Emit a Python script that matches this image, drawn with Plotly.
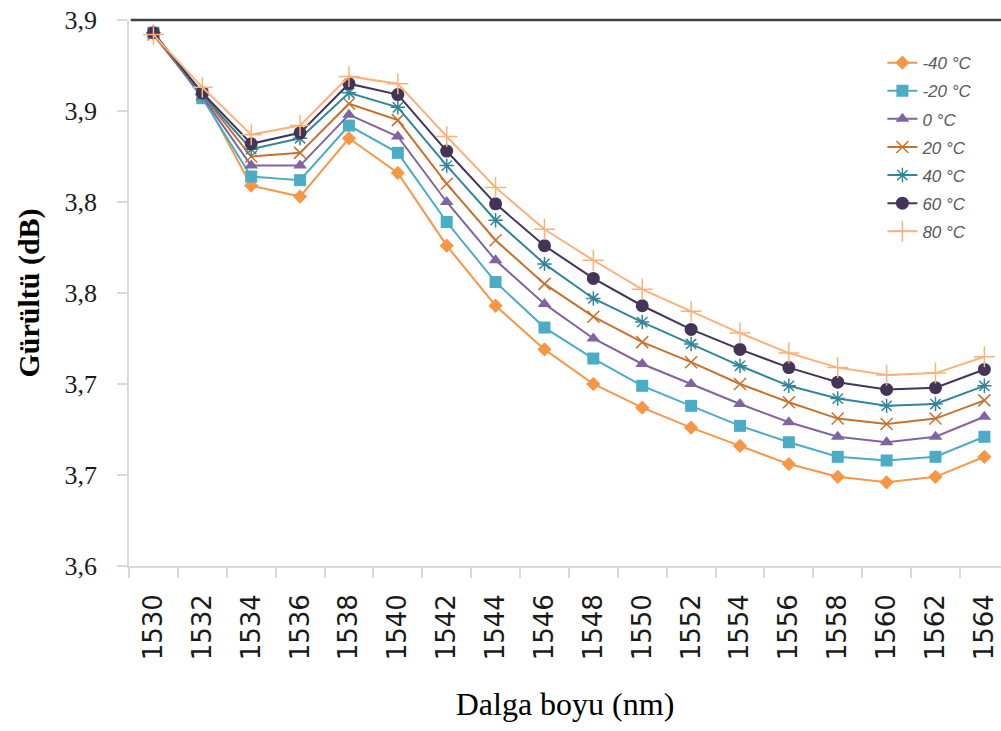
import plotly.graph_objects as go

wavelengths = ["1530", "1532", "1534", "1536", "1538", "1540", "1542", "1544", "1546",
               "1548", "1550", "1552", "1554", "1556", "1558", "1560", "1562", "1564"]

t_m40 = [3.893, 3.859, 3.809, 3.803, 3.835, 3.816, 3.776, 3.743, 3.719,
         3.700, 3.687, 3.676, 3.666, 3.656, 3.649, 3.646, 3.649, 3.660]
t_m20 = [3.893, 3.857, 3.814, 3.812, 3.842, 3.827, 3.789, 3.756, 3.731,
         3.714, 3.699, 3.688, 3.677, 3.668, 3.660, 3.658, 3.660, 3.671]
t_0 = [3.892, 3.858, 3.820, 3.820, 3.848, 3.836, 3.800, 3.768, 3.744,
       3.725, 3.711, 3.700, 3.689, 3.679, 3.671, 3.668, 3.671, 3.682]
t_20 = [3.892, 3.859, 3.825, 3.827, 3.854, 3.845, 3.810, 3.779, 3.755,
        3.737, 3.723, 3.712, 3.700, 3.690, 3.681, 3.678, 3.681, 3.691]
t_40 = [3.893, 3.859, 3.829, 3.835, 3.860, 3.852, 3.820, 3.790, 3.766,
        3.747, 3.734, 3.722, 3.710, 3.699, 3.692, 3.688, 3.689, 3.699]
t_60 = [3.893, 3.860, 3.832, 3.838, 3.865, 3.859, 3.828, 3.799, 3.776,
        3.758, 3.743, 3.730, 3.719, 3.709, 3.701, 3.697, 3.698, 3.708]
t_80 = [3.892, 3.863, 3.837, 3.842, 3.869, 3.865, 3.836, 3.808, 3.785,
        3.768, 3.752, 3.740, 3.728, 3.717, 3.709, 3.705, 3.706, 3.715]

series_names = ["-40 °C", "-20 °C", "0 °C", "20 °C", "40 °C", "60 °C", "80 °C"]
series_values = [t_m40, t_m20, t_0, t_20, t_40, t_60, t_80]

y_tick_vals = [3.60, 3.65, 3.70, 3.75, 3.80, 3.85, 3.90]
y_tick_text = ["3,6", "3,7", "3,7", "3,8", "3,8", "3,9", "3,9"]

colors = ["#F79646", "#4BACC6", "#8064A2", "#C8702E", "#31859C", "#433458", "#FAB27A"]
symbols = ["diamond", "square", "triangle-up", "x-thin-open", "asterisk-open", "circle", "cross-thin-open"]
sizes = [11, 12, 12, 12, 12, 13, 15]

fig = go.Figure()
for i, (name, vals) in enumerate(zip(series_names, series_values)):
    open_sym = symbols[i].endswith("open")
    fig.add_trace(go.Scatter(
        x=wavelengths, y=vals, name=name, mode="lines+markers",
        legendgroup=name,
        line=dict(color=colors[i], width=2),
        marker=dict(symbol=symbols[i], size=sizes[i], color=colors[i],
                    line=dict(color=colors[i], width=1.5 if open_sym else 0)),
    ))

fig.add_shape(type="line", xref="paper", yref="paper", x0=0.002, x1=1, y0=1, y1=1,
              line=dict(color="#404040", width=2.5), layer="above")

fig.update_layout(
    width=1001, height=731,
    margin=dict(l=129, r=0, t=20, b=165),
    paper_bgcolor="white", plot_bgcolor="white",
    showlegend=True,
    legend=dict(x=0.864, y=0.954, xanchor="left", yanchor="top",
                font=dict(family="Liberation Sans", size=17, color="#595959", style="italic"),
                tracegroupgap=3, bgcolor="rgba(0,0,0,0)"),
    xaxis=dict(type="category", range=[-0.5, 17.34], showgrid=False, automargin=False,
               showline=True, linecolor="#D9D9D9", linewidth=1.5,
               ticks="outside", ticklen=10, tickcolor="#D9D9D9", tickwidth=1.5,
               tickson="boundaries", tickangle=-90, ticklabelstandoff=16,
               ticklabeloverflow="allow",
               tickfont=dict(family="DejaVu Sans", size=26, color="#1a1a1a"),
               title=dict(text="Dalga boyu (nm)", standoff=33,
                          font=dict(family="Liberation Serif", size=32, color="black"))),
    yaxis=dict(range=[3.60, 3.90], tickvals=y_tick_vals, ticktext=y_tick_text,
               showgrid=False, zeroline=False, automargin=False,
               showline=True, linecolor="#D9D9D9", linewidth=1.5,
               ticks="outside", ticklen=10, tickcolor="#D9D9D9", tickwidth=1.5,
               ticklabelstandoff=15, ticklabeloverflow="allow",
               tickfont=dict(family="Liberation Serif", size=26, color="#1a1a1a"),
               title=dict(text="<b>Gürültü (dB)</b>", standoff=16,
                          font=dict(family="Liberation Serif", size=30, color="black"))),
)

fig.write_html("out.html", config={"displayModeBar": False},
               post_script="document.body.style.margin='0';document.body.style.overflow='hidden';")
